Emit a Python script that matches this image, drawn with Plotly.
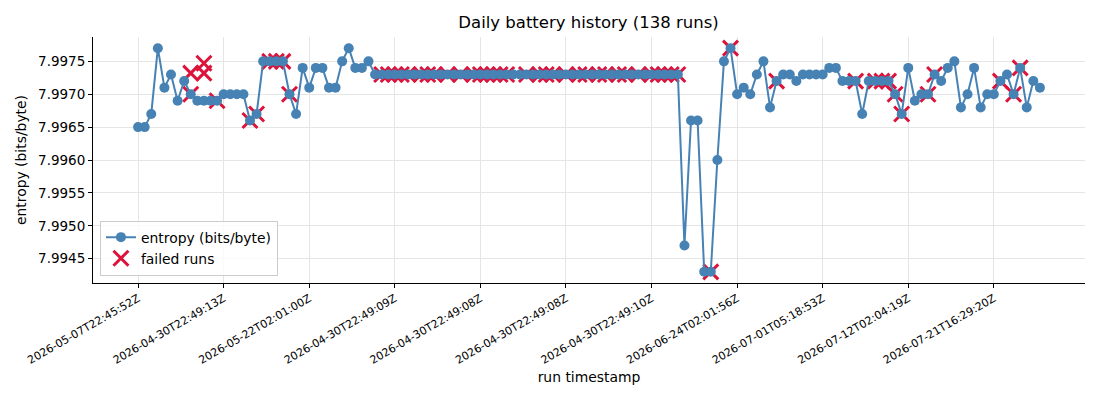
import plotly.graph_objects as go

# ---- data ----
entropy = [
    7.9965, 7.9965, 7.9967, 7.9977, 7.9971, 7.9973, 7.9969, 7.9972, 7.9970, 7.9969,
    7.9969, 7.9969, 7.9969, 7.9970, 7.9970, 7.9970, 7.9970, 7.9966, 7.9967, 7.9975,
    7.9975, 7.9975, 7.9975, 7.9970, 7.9967, 7.9974, 7.9971, 7.9974, 7.9974, 7.9971,
    7.9971, 7.9975, 7.9977, 7.9974, 7.9974, 7.9975,
    7.9973, 7.9973, 7.9973, 7.9973, 7.9973, 7.9973, 7.9973, 7.9973, 7.9973, 7.9973,
    7.9973, 7.9973, 7.9973, 7.9973, 7.9973, 7.9973, 7.9973, 7.9973, 7.9973, 7.9973,
    7.9973, 7.9973, 7.9973, 7.9973, 7.9973, 7.9973, 7.9973, 7.9973, 7.9973, 7.9973,
    7.9973, 7.9973, 7.9973, 7.9973, 7.9973, 7.9973, 7.9973, 7.9973, 7.9973, 7.9973,
    7.9973, 7.9973, 7.9973, 7.9973, 7.9973, 7.9973, 7.9973,
    7.9947, 7.9966, 7.9966, 7.9943, 7.9943, 7.9960, 7.9975, 7.9977, 7.9970, 7.9971,
    7.9970, 7.9973, 7.9975, 7.9968, 7.9972, 7.9973, 7.9973, 7.9972, 7.9973, 7.9973,
    7.9973, 7.9973, 7.9974, 7.9974, 7.9972, 7.9972, 7.9972, 7.9967, 7.9972, 7.9972,
    7.9972, 7.9972, 7.9970, 7.9967, 7.9974, 7.9969, 7.9970, 7.9970, 7.9973, 7.9972,
    7.9974, 7.9975, 7.9968, 7.9970, 7.9974, 7.9968, 7.9970, 7.9970, 7.9972, 7.9973,
    7.9970, 7.9974, 7.9968, 7.9972, 7.9971,
]
run_index = list(range(len(entropy)))

failed_index = [
    8, 8, 10, 10, 12, 17, 18, 20, 21, 22, 23,
    37, 38, 39, 40, 41, 43, 44, 45, 47, 49, 51, 52, 53, 54, 55, 56, 59,
    61, 62, 63, 65, 67, 68, 70, 71, 73, 74, 76, 78, 79, 80, 81, 82,
    87, 90, 97, 109, 112, 113, 114, 115, 116, 120, 121, 131, 133, 134,
]
failed_entropy = [
    7.9970, 7.99732, 7.99747, 7.99732, 7.9969, 7.9966, 7.9967, 7.9975, 7.9975, 7.9975, 7.9970,
    7.9973, 7.9973, 7.9973, 7.9973, 7.9973, 7.9973, 7.9973, 7.9973, 7.9973, 7.9973,
    7.9973, 7.9973, 7.9973, 7.9973, 7.9973, 7.9973, 7.9973,
    7.9973, 7.9973, 7.9973, 7.9973, 7.9973, 7.9973, 7.9973, 7.9973, 7.9973, 7.9973,
    7.9973, 7.9973, 7.9973, 7.9973, 7.9973, 7.9973,
    7.9943, 7.9977, 7.9972, 7.9972, 7.9972, 7.9972, 7.9972, 7.9970, 7.9967, 7.9970,
    7.9973, 7.9972, 7.9970, 7.9974,
]

tick_index = [0, 13, 26, 39, 52, 65, 78, 91, 104, 117, 130]
tick_labels = [
    "2026-05-07T22:45:52Z", "2026-04-30T22:49:13Z", "2026-05-22T02:01:00Z",
    "2026-04-30T22:49:09Z", "2026-04-30T22:49:08Z", "2026-04-30T22:49:08Z",
    "2026-04-30T22:49:10Z", "2026-06-24T02:01:56Z", "2026-07-01T05:18:53Z",
    "2026-07-12T02:04:19Z", "2026-07-21T16:29:20Z",
]
y_ticks = [7.9945, 7.9950, 7.9955, 7.9960, 7.9965, 7.9970, 7.9975]

FONT = "DejaVu Sans"

fig = go.Figure()
fig.add_trace(go.Scatter(
    x=failed_index, y=failed_entropy, mode="markers", name="failed runs",
    legendrank=2,
    marker=dict(symbol="x-thin", size=15, color="#dc143c",
                line=dict(color="#dc143c", width=3)),
))
fig.add_trace(go.Scatter(
    x=run_index, y=entropy, mode="lines+markers", name="entropy (bits/byte)",
    legendrank=1,
    line=dict(color="#4682b4", width=2),
    marker=dict(symbol="circle", size=10, color="#4682b4"),
))

n = len(entropy)
pad_x = 0.05 * (n - 1)
ymin, ymax = min(entropy), max(entropy)
pad_y = 0.05 * (ymax - ymin)

fig.update_layout(
    width=1100, height=400,
    margin=dict(l=93, r=15, t=37, b=117),
    paper_bgcolor="white", plot_bgcolor="white",
    font=dict(family=FONT, size=13, color="black"),
    title=dict(text="Daily battery history (138 runs)", x=0.535, xanchor="center",
               y=0.945, yanchor="middle", yref="container",
               font=dict(family=FONT, size=16.5, color="black")),
    showlegend=True,
    legend=dict(x=0.007, y=0.03, xanchor="left", yanchor="bottom",
                bgcolor="rgba(255,255,255,0.8)", bordercolor="#cccccc", borderwidth=1,
                font=dict(family=FONT, size=13.9), tracegroupgap=0),
)
fig.update_xaxes(
    range=[-pad_x, n - 1 + pad_x], automargin=False,
    tickmode="array", tickvals=tick_index, ticktext=tick_labels,
    tickangle=-30, tickfont=dict(family=FONT, size=11),
    ticks="outside", ticklen=4, tickcolor="black",
    showline=True, linecolor="black", linewidth=1, mirror=False,
    showgrid=True, gridcolor="#e5e5e5", gridwidth=1, zeroline=False,
    title=dict(text="run timestamp", font=dict(family=FONT, size=13.9), standoff=6),
)
fig.update_yaxes(
    range=[ymin - pad_y, ymax + pad_y], automargin=False,
    tickmode="array", tickvals=y_ticks, ticktext=[f"{v:.4f}" for v in y_ticks],
    tickfont=dict(family=FONT, size=13.5),
    ticks="outside", ticklen=4, tickcolor="black",
    showline=True, linecolor="black", linewidth=1, mirror=False,
    showgrid=True, gridcolor="#e5e5e5", gridwidth=1, zeroline=False,
    title=dict(text="entropy (bits/byte)", font=dict(family=FONT, size=13.9), standoff=8),
)

fig.write_html("out.html", config={"displayModeBar": False},
               post_script="document.body.style.margin='0';")
